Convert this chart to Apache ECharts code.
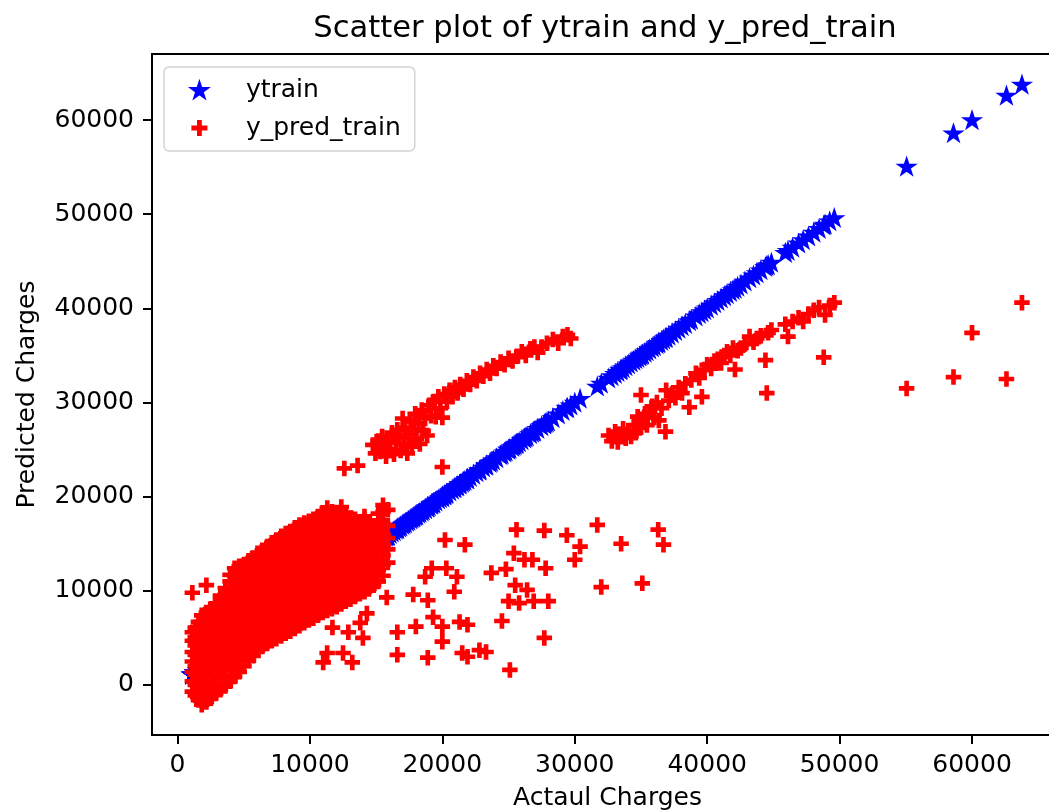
<!DOCTYPE html>
<html>
<head>
<meta charset="utf-8">
<script src="https://cdn.jsdelivr.net/npm/echarts@6/dist/echarts.min.js"></script>
<style>
  html, body { margin: 0; padding: 0; background: #fff; }
  #chart { width: 1049px; height: 812px; }
</style>
</head>
<body>
<div id="chart"></div>
<script>
// Tick positions on both axes (charges, $)
const xTicks = [0, 10000, 20000, 30000, 40000, 50000, 60000];
const yTicks = [0, 10000, 20000, 30000, 40000, 50000, 60000];

// Charges below are in thousands of dollars.
// Non-smoker band: each row is [actual, predicted, predicted, ...]
const bandColumns = [
  [1.12, -0.7, 0.4, 1.4, 2.5, 3.5, 4.7, 5.6, 9.8],
  [1.34, -1.1, 0.0, 1.1, 2.0, 3.2, 4.2, 5.1, 6.1],
  [1.58, -1.6, -0.5, 0.6, 1.7, 2.6, 3.8, 4.7, 5.9, 6.7],
  [1.83, -2.1, -1.0, 0.2, 1.1, 2.3, 3.2, 4.4, 5.3, 6.5, 7.4],
  [2.18, -1.8, -0.6, 0.3, 1.5, 2.4, 3.7, 4.6, 5.8, 6.9, 7.7, 10.6],
  [2.52, -1.4, -0.2, 0.9, 1.8, 3.0, 4.0, 5.1, 6.2, 7.1, 8.1],
  [2.88, -0.9, 0.1, 1.3, 2.4, 3.3, 4.5, 5.6, 6.5, 7.7, 8.6],
  [3.24, -0.5, 0.7, 1.6, 2.8, 3.9, 4.8, 6.0, 7.1, 8.0, 9.1, 9.5],
  [3.61, -0.1, 1.0, 2.2, 3.1, 4.3, 5.2, 6.4, 7.4, 8.5, 9.6, 10.3],
  [3.97, 0.4, 1.6, 2.5, 3.7, 4.8, 5.7, 6.9, 7.9, 9.0, 10.1, 11.0, 11.7],
  [4.31, 0.9, 1.9, 3.1, 4.1, 5.2, 6.3, 7.2, 8.4, 9.5, 10.4, 11.6, 12.4],
  [4.66, 1.4, 2.6, 3.5, 4.7, 5.6, 6.8, 7.8, 8.9, 10.0, 10.9, 12.1, 12.6],
  [5.02, 2.0, 3.0, 4.2, 5.2, 6.3, 7.4, 8.3, 9.5, 10.6, 11.5, 12.8],
  [5.36, 2.6, 3.8, 4.7, 5.9, 6.8, 8.0, 9.1, 10.0, 11.2, 12.2, 13.2],
  [5.71, 3.1, 4.2, 5.4, 6.3, 7.5, 8.4, 9.6, 10.7, 11.6, 12.8, 13.5],
  [6.04, 3.7, 4.9, 5.8, 7.0, 8.0, 9.1, 10.1, 11.3, 12.2, 13.4, 14.0],
  [6.41, 4.1, 5.2, 6.4, 7.3, 8.5, 9.4, 10.6, 11.7, 12.6, 13.8, 14.3],
  [6.77, 4.4, 5.6, 6.6, 7.8, 8.7, 9.9, 10.8, 12.0, 13.1, 14.0, 14.7],
  [7.12, 4.7, 5.8, 7.0, 7.9, 9.1, 10.1, 11.2, 12.3, 13.2, 14.4, 15.1],
  [7.46, 4.9, 6.1, 7.1, 8.3, 9.2, 10.4, 11.3, 12.5, 13.6, 14.5, 15.4],
  [7.83, 5.2, 6.3, 7.5, 8.4, 9.6, 10.6, 11.7, 12.8, 13.8, 14.9, 15.8],
  [8.17, 5.5, 6.7, 7.6, 8.8, 9.8, 10.9, 12.0, 13.0, 14.1, 15.1, 16.1],
  [8.52, 5.7, 6.9, 8.0, 8.9, 10.1, 11.1, 12.2, 13.3, 14.3, 15.4, 16.3],
  [8.86, 6.0, 7.1, 8.3, 9.3, 10.3, 11.5, 12.4, 13.6, 14.6, 15.6, 16.7],
  [9.21, 6.3, 7.5, 8.4, 9.6, 10.7, 11.6, 12.8, 13.8, 14.9, 16.0, 17.0],
  [9.57, 6.6, 7.7, 8.8, 9.8, 11.0, 11.9, 13.1, 14.1, 15.2, 16.2, 17.2],
  [9.92, 6.9, 8.1, 9.0, 10.2, 11.2, 12.3, 13.3, 14.5, 15.4, 16.6, 17.4],
  [10.26, 7.1, 8.2, 9.4, 10.3, 11.5, 12.5, 13.6, 14.7, 15.7, 16.8, 17.6],
  [10.61, 7.4, 8.6, 9.6, 10.7, 11.7, 12.9, 13.8, 15.0, 16.0, 17.1, 17.9],
  [10.96, 7.7, 8.8, 9.9, 11.0, 12.1, 13.0, 14.2, 15.2, 16.3, 17.3, 18.3],
  [11.31, 7.9, 9.1, 10.1, 11.2, 12.3, 13.4, 14.3, 15.5, 16.5, 17.6, 18.8],
  [11.66, 8.1, 9.3, 10.3, 11.4, 12.5, 13.6, 14.6, 15.7, 16.8, 17.8, 18.4],
  [12.02, 8.3, 9.4, 10.6, 11.6, 12.7, 13.7, 14.8, 15.9, 17.0, 17.9],
  [12.37, 8.6, 9.8, 10.8, 11.9, 13.0, 14.0, 15.1, 16.2, 17.2, 18.2, 18.9],
  [12.71, 8.9, 10.0, 11.1, 12.1, 13.3, 14.3, 15.4, 16.4, 17.5, 18.3],
  [13.06, 9.1, 10.3, 11.3, 12.4, 13.5, 14.6, 15.6, 16.7, 17.7],
  [13.41, 9.4, 10.5, 11.6, 12.7, 13.8, 14.8, 15.9, 17.0, 17.6],
  [13.77, 9.7, 10.9, 11.9, 13.0, 14.0, 15.1, 16.2, 17.2],
  [14.12, 9.9, 11.1, 12.1, 13.2, 14.3, 15.4, 16.4, 17.5, 17.9],
  [14.46, 10.2, 11.4, 12.5, 13.5, 14.6, 15.7, 16.7, 17.2],
  [14.81, 10.6, 11.7, 12.8, 13.9, 15.0, 16.0, 16.9],
  [15.16, 11.0, 12.2, 13.2, 14.3, 15.4, 16.4, 17.5, 18.2],
  [15.52, 11.6, 12.8, 13.8, 14.9, 16.0, 17.1, 18.4, 19.1],
  [15.88, 13.0, 14.4, 15.6, 16.9, 18.6]
];

// Smokers predicted above their charges: [actual, predicted]
const upperBranch = [
  [12.6, 23.0], [13.6, 23.3], [20.0, 23.15],
  [14.75, 25.5], [14.95, 24.6], [15.15, 25.9], [15.3, 24.8], [15.45, 26.4], [15.6, 25.3],
  [15.75, 24.3], [15.9, 26.1], [16.05, 25.0], [16.2, 26.8], [16.35, 24.5], [16.5, 25.7],
  [16.6, 27.1], [16.75, 26.3], [16.85, 24.9], [17.0, 28.3], [17.1, 25.6], [17.2, 27.3],
  [17.35, 24.6], [17.45, 26.6], [17.6, 28.0], [17.7, 25.3], [17.85, 27.1], [17.95, 28.8],
  [18.05, 26.1], [18.2, 27.8], [18.3, 25.6], [18.45, 29.2], [18.55, 27.0], [18.7, 28.3],
  [18.85, 26.5], [19.0, 29.7], [19.15, 28.6], [19.35, 30.1], [19.5, 28.5], [19.7, 30.6],
  [19.85, 29.4], [20.0, 28.4], [20.15, 30.9], [20.35, 30.1], [20.55, 31.3], [20.75, 30.6],
  [20.95, 31.6], [21.15, 31.0], [21.35, 31.9], [21.6, 31.4], [21.85, 32.3], [22.1, 31.9],
  [22.35, 32.7], [22.6, 32.3], [22.85, 33.1], [23.1, 32.8], [23.35, 33.5], [23.6, 33.1],
  [23.85, 33.9], [24.1, 33.6], [24.4, 34.3], [24.7, 34.0], [25.0, 34.7], [25.3, 34.4],
  [25.65, 34.9], [26.0, 35.4], [26.3, 35.0], [26.65, 35.7], [26.95, 35.9], [27.2, 35.3],
  [27.5, 35.9], [27.9, 36.3], [28.35, 36.7], [28.75, 36.3], [29.1, 37.0], [29.45, 37.2],
  [29.7, 36.8]
];

// Smokers predicted below their charges: [actual, predicted]
const lowerBranch = [
  [32.55, 26.5], [32.8, 25.9], [33.05, 26.9], [33.25, 25.8], [33.45, 26.6], [33.65, 27.2],
  [33.85, 26.2], [34.05, 27.0], [34.25, 26.4], [34.45, 27.6], [34.6, 26.8], [34.75, 28.5],
  [34.9, 27.3], [35.0, 30.8], [35.1, 28.0], [35.3, 28.8], [35.45, 27.6], [35.65, 29.0],
  [35.85, 29.6], [36.0, 28.4], [36.2, 30.0], [36.35, 28.1], [36.55, 29.4], [36.85, 26.9],
  [36.9, 31.3], [37.1, 30.2], [37.35, 30.9], [37.6, 30.5], [37.85, 31.6], [38.1, 31.0],
  [38.35, 32.0], [38.65, 29.5], [38.8, 32.4], [39.15, 33.1], [39.4, 32.6], [39.6, 30.6],
  [39.8, 33.5], [40.0, 34.0], [40.3, 33.6], [40.55, 34.4], [40.8, 34.6], [41.05, 34.2],
  [41.3, 35.0], [41.5, 35.4], [41.75, 35.0], [41.95, 35.8], [42.1, 33.5], [42.3, 35.5],
  [42.55, 35.8], [42.85, 36.2], [43.2, 37.0], [43.5, 36.4], [43.75, 36.8], [44.05, 37.1],
  [44.4, 34.5], [44.5, 31.0], [44.6, 37.4], [44.85, 37.7], [45.9, 38.3], [46.1, 37.0],
  [46.45, 38.6], [46.9, 39.0], [47.25, 38.6], [47.65, 39.4], [48.05, 39.8], [48.45, 40.1],
  [48.8, 34.8], [48.9, 39.3], [49.25, 40.3], [49.6, 40.6]
];

// Charges far above the non-smoker band but predicted low: [actual, predicted]
const scattered = [
  [11.0, 2.4], [11.3, 3.4], [11.7, 6.1], [12.5, 3.4], [12.9, 5.6], [13.2, 2.4],
  [13.8, 6.6], [14.0, 5.0], [14.3, 7.6], [15.8, 9.3], [16.6, 5.6], [16.6, 3.2],
  [17.8, 9.6], [18.0, 6.2], [18.7, 11.5], [18.9, 9.0], [18.9, 2.9], [19.2, 12.4],
  [19.3, 7.2], [20.0, 6.2], [20.0, 4.6], [20.2, 15.4], [20.3, 12.4], [20.9, 9.9],
  [21.1, 11.5], [21.3, 6.7], [21.5, 3.4], [21.7, 14.9], [21.9, 6.4], [21.9, 3.0],
  [22.8, 3.7], [23.3, 3.5], [23.7, 11.9], [24.5, 6.8], [24.8, 12.3], [25.0, 8.9],
  [25.1, 1.6], [25.4, 14.0], [25.5, 10.6], [25.6, 16.5], [25.8, 8.7], [26.2, 13.3],
  [26.4, 10.1], [26.8, 13.3], [26.9, 8.9], [27.7, 16.4], [27.7, 5.0], [27.8, 12.4],
  [28.0, 8.9], [29.4, 15.9], [30.0, 13.3], [30.4, 14.7], [31.7, 17.0], [32.0, 10.4],
  [33.5, 15.0], [35.1, 10.8], [36.3, 16.5], [36.7, 14.9]
];

// Highest charges: [actual, predicted]
const highCharges = [
  [55.06, 31.5], [58.6, 32.7], [60.0, 37.4], [62.6, 32.5], [63.77, 40.6]
];

// Flatten everything into [actual, predicted] pairs in dollars
const pairs = [];
bandColumns.forEach(row => {
  for (let i = 1; i < row.length; i++) pairs.push([row[0], row[i]]);
});
[upperBranch, lowerBranch, scattered, highCharges].forEach(group => {
  group.forEach(p => pairs.push(p));
});
const dollars = v => Math.round(v * 1000);
const ytrainPoints = pairs.map(p => [dollars(p[0]), dollars(p[0])]);
const predPoints = pairs.map(p => [dollars(p[0]), dollars(p[1])]);

// Marker shapes: five-point star and plus sign
function starSymbol() {
  const pts = [];
  for (let i = 0; i < 10; i++) {
    const r = i % 2 === 0 ? 1 : 0.381966;
    const a = Math.PI / 2 + i * Math.PI / 5;
    pts.push((r * Math.cos(a)).toFixed(4) + ',' + (-r * Math.sin(a)).toFixed(4));
  }
  return 'path://M' + pts.join('L') + 'Z';
}
const STAR = starSymbol();
const PLUS = 'path://M5.6,0H10.4V5.6H16V10.4H10.4V16H5.6V10.4H0V5.6H5.6Z';

const FONT = 'DejaVu Sans';
const chart = echarts.init(document.getElementById('chart'), null, { renderer: 'canvas' });

const axisCommon = {
  type: 'value',
  splitLine: { show: false },
  axisLine: { show: true, onZero: false, lineStyle: { color: '#000', width: 2 } },
  axisTick: { show: true, inside: false, length: 9, lineStyle: { color: '#000', width: 2 } },
  nameTextStyle: { fontFamily: FONT, fontSize: 25, color: '#000' }
};

chart.setOption({
  animation: false,
  backgroundColor: '#fff',
  title: {
    text: 'Scatter plot of ytrain and y_pred_train',
    left: 605,
    top: 14,
    padding: 0,
    textAlign: 'center',
    textStyle: { fontFamily: FONT, fontSize: 30.6, fontWeight: 'normal', color: '#000' }
  },
  legend: {
    orient: 'vertical',
    left: 164,
    top: 67,
    padding: [10, 14, 10, 26],
    itemGap: 12,
    itemWidth: 17,
    itemHeight: 16,
    borderColor: '#d4d4d4',
    borderWidth: 1.5,
    borderRadius: 5,
    backgroundColor: 'rgba(255,255,255,0.8)',
    textStyle: { fontFamily: FONT, fontSize: 25, color: '#000', lineHeight: 26, padding: [0, 0, 0, 33] },
    data: [
      { name: 'ytrain', icon: STAR },
      { name: 'y_pred_train', icon: PLUS }
    ]
  },
  grid: {
    left: 152,
    top: 54,
    width: 911,
    height: 681,
    show: true,
    borderColor: '#000',
    borderWidth: 2,
    backgroundColor: 'transparent',
    containLabel: false,
    outerBoundsMode: 'none'
  },
  xAxis: Object.assign({}, axisCommon, {
    min: -1926,
    max: 66870,
    name: 'Actaul Charges',
    nameLocation: 'middle',
    nameGap: 51,
    axisTick: Object.assign({}, axisCommon.axisTick, { customValues: xTicks }),
    axisLabel: {
      customValues: xTicks,
      margin: 18,
      fontFamily: FONT,
      fontSize: 25,
      color: '#000',
      formatter: v => String(v)
    }
  }),
  yAxis: Object.assign({}, axisCommon, {
    min: -5310,
    max: 67010,
    name: 'Predicted Charges',
    nameLocation: 'middle',
    nameGap: 112,
    axisTick: Object.assign({}, axisCommon.axisTick, { customValues: yTicks }),
    axisLabel: {
      customValues: yTicks,
      margin: 18,
      fontFamily: FONT,
      fontSize: 25,
      color: '#000',
      formatter: v => String(v)
    }
  }),
  series: [
    {
      name: 'ytrain',
      type: 'scatter',
      symbol: STAR,
      symbolSize: [15, 14],
      itemStyle: { color: '#0000ff', borderColor: '#0000ff', borderWidth: 2.4, borderJoin: 'miter', opacity: 1 },
      silent: true,
      data: ytrainPoints
    },
    {
      name: 'y_pred_train',
      type: 'scatter',
      symbol: PLUS,
      symbolSize: 15.5,
      itemStyle: { color: '#ff0000', opacity: 1 },
      silent: true,
      data: predPoints
    }
  ]
});
</script>
</body>
</html>
